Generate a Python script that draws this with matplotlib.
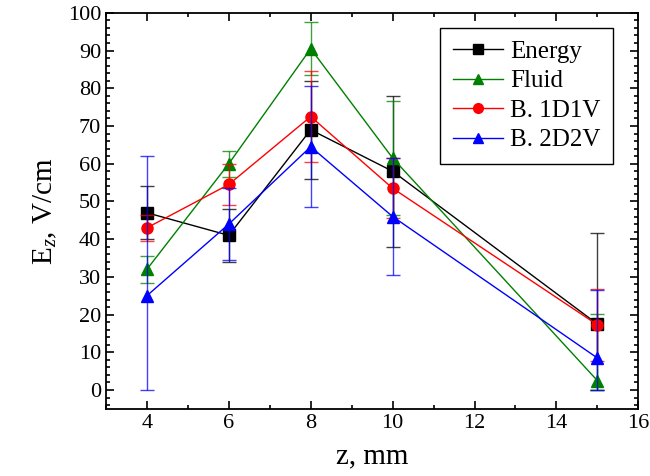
import matplotlib.pyplot as plt
import numpy as np
from matplotlib.ticker import MultipleLocator
from matplotlib.lines import Line2D

plt.rcParams["font.family"] = ["Liberation Serif", "DejaVu Serif"]
plt.rcParams["mathtext.fontset"] = "custom"
plt.rcParams["mathtext.rm"] = "Liberation Serif"
plt.rcParams["mathtext.it"] = "Liberation Serif:italic"

z = [4, 6, 8, 10, 15]

energy = [47, 41, 69, 58, 17.5]
energy_err = [7, 7, 13, 20, 24]

fluid = [32, 60, 90.5, 61.5, 2.5]
fluid_err = [3.5, 3.5, 7, 15, 17.7]

b1d1v = [43, 54.5, 72.5, 53.5, 17.3]
b1d1v_err = [3.5, 5.5, 12, 8, 9.5]

b2d2v = [25, 44, 64.5, 46, 8.5]
b2d2v_err = [37, 9.5, 16, 15.5, 18]

labels = ["Energy", "Fluid", "B. 1D1V", "B. 2D2V"]
colors = ["black", "green", "red", "blue"]
markers = ["s", "^", "o", "^"]

fig = plt.figure(figsize=(6.5, 4.76), dpi=100)
ax = fig.add_axes([0.163, 0.141, 0.819, 0.832])

handles = []
for label, y, err, color, marker in zip(labels, [energy, fluid, b1d1v, b2d2v],
                                        [energy_err, fluid_err, b1d1v_err, b2d2v_err],
                                        colors, markers):
    y = np.array(y)
    err = np.array(err)
    # lower bars stop at zero
    lo = np.minimum(err, y)
    ax.errorbar(z, y, yerr=[lo, err], fmt="none", ecolor=color,
                elinewidth=1, capsize=5, capthick=1, alpha=0.75)
    ax.plot(z, y, color=color, marker=marker, markersize=8, linewidth=1)
    handles.append(Line2D([], [], color=color, marker=marker, markersize=7, linewidth=1))

ax.set_xlim(3, 16)
ax.set_ylim(-5, 100)
ax.xaxis.set_major_locator(MultipleLocator(2))
ax.xaxis.set_minor_locator(MultipleLocator(1))
ax.yaxis.set_major_locator(MultipleLocator(10))
ax.yaxis.set_minor_locator(MultipleLocator(2))
ax.tick_params(which="both", direction="in", top=True, right=True, labelsize=16, width=1.2)
ax.tick_params(which="major", length=6)
ax.tick_params(which="minor", length=3)
for s in ax.spines.values():
    s.set_linewidth(1.3)

ax.set_xlabel("z, mm", fontsize=21, labelpad=8)
ax.set_ylabel("E$_z$, V/cm", fontsize=21, labelpad=6)

leg = ax.legend(handles, labels, loc="upper right", fontsize=18, fancybox=False,
                edgecolor="black", framealpha=1, handlelength=2.0, handletextpad=0.3,
                borderpad=0.5, labelspacing=0.28, borderaxespad=0,
                bbox_to_anchor=(0.953, 0.962))
leg.get_frame().set_linewidth(1)

fig.savefig("out.png", dpi=100)
